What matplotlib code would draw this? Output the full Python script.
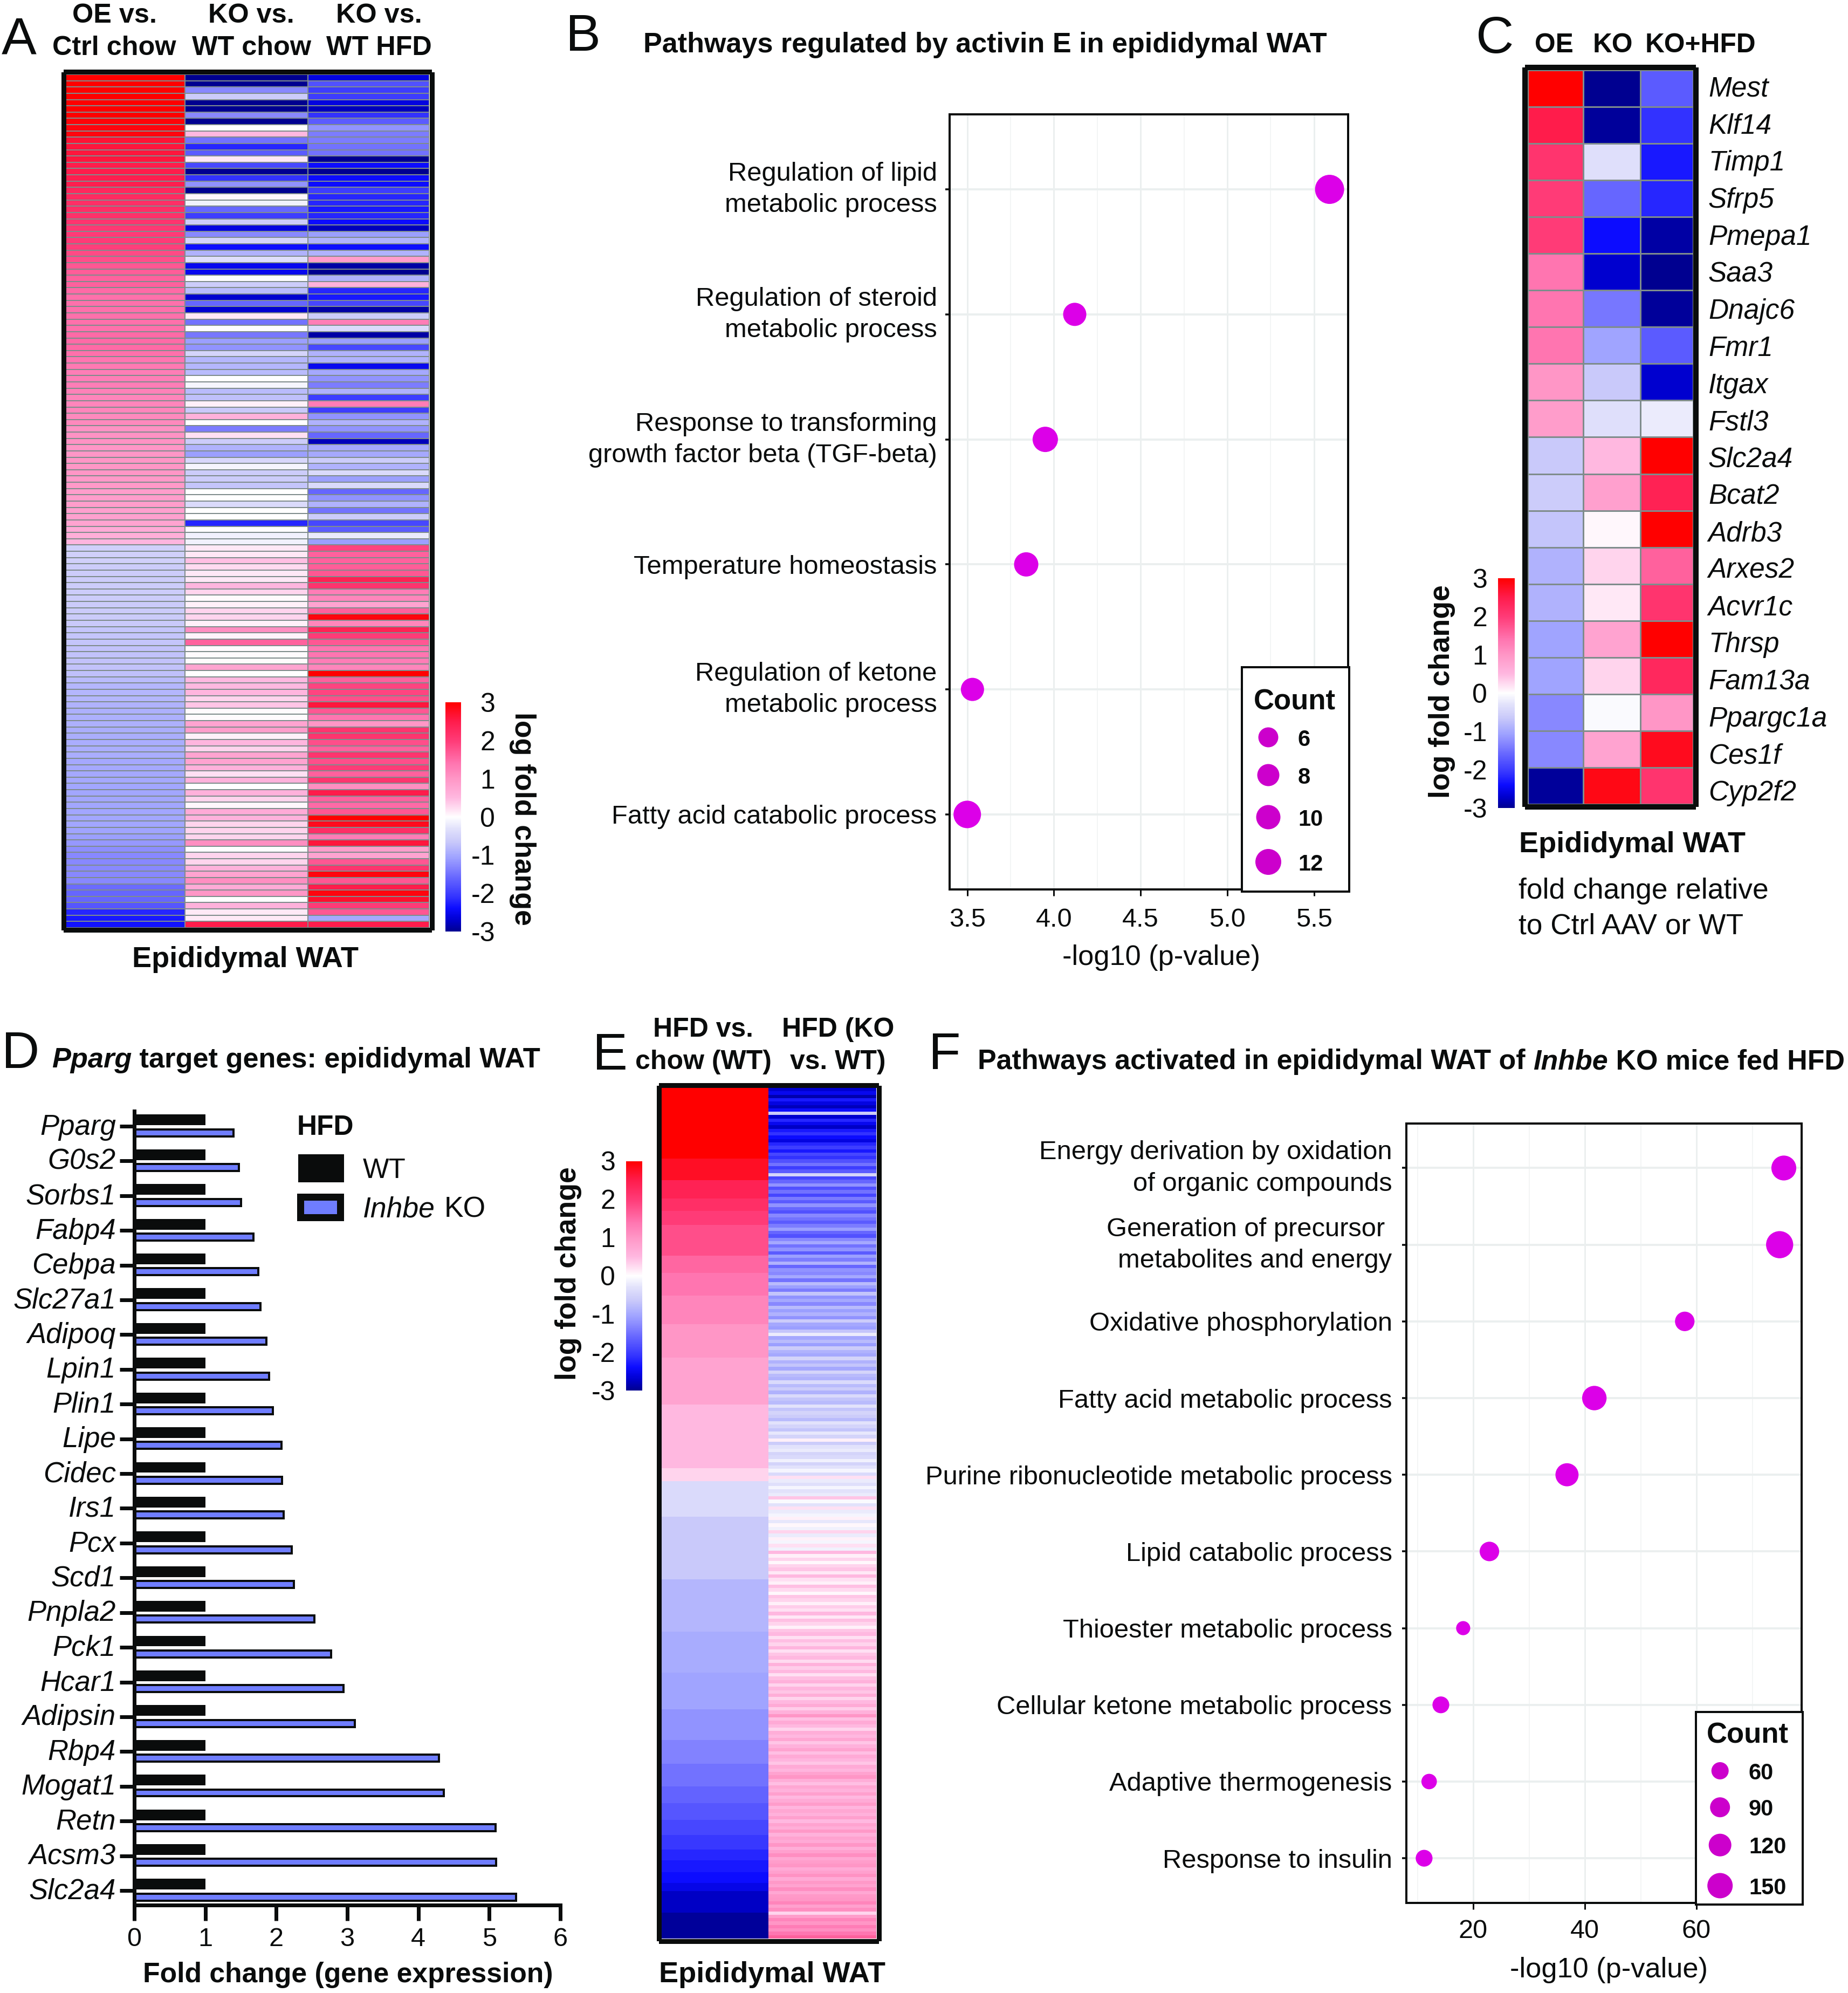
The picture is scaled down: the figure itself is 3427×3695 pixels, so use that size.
import numpy as np
import matplotlib
matplotlib.use('Agg')
import matplotlib.pyplot as plt
from matplotlib.colors import LinearSegmentedColormap, Normalize
from matplotlib.cm import ScalarMappable
from matplotlib.patches import Rectangle
from matplotlib.transforms import ScaledTranslation

# ---------------- DATA ----------------
a_oe_up = [3,3,3,3,3,3,3,2.95,2.9,2.9,2.65,2.6,2.6,2.6,2.5,2.5,2.45,2.45,2.3,2.25,2.2,2.2,2.15,2.1,2.05,
           2.0,2.0,1.95,1.85,1.8,1.7,1.65,1.6,1.6,1.5,1.45,1.45,1.45,1.45,1.45,1.45,1.5,1.5,1.5,1.45,1.4,1.35,1.3,1.3,1.3,
           1.25,1.2,1.2,1.2,1.15,1.15,1.05,1.05,1.05,1.0,1.0,1.0,1.0,1.0,0.95,0.95,0.9,0.9,0.9,0.85,0.85,0.8,0.7,0.65,0.55]
a_ko_up = [-3,-3,-1.3,-0.6,-3,-3,-1.3,-3,0,0.5,-1.5,-2.2,-1.7,0.15,-1.9,-3,-2.1,-1.2,-3,0.05,-0.15,-1.6,-2.0,-0.6,-2.6,
           -1.3,-0.5,-2.4,-0.9,-0.35,-2.5,-2.5,-0.02,-0.6,-0.8,-2.7,-1.6,-2.7,0.15,-1.5,0,-1.45,-1.1,-1.2,-0.5,-0.85,-0.85,-0.8,0,-0.1,
           -0.8,-0.75,0.1,-0.65,0.6,0,-1.4,0.2,-0.6,-0.9,-1.1,-0.45,-0.1,-0.6,-0.6,-0.7,0,0,-0.4,0,0,-2.2,0,-0.15,-0.15]
a_hfd_up = [-2.6,-1.8,-2.0,-2.0,-2.6,-2.8,-2.1,-1.7,-1.2,-1.4,-1.4,-1.5,-1.5,-3,-2.4,-3,-2.4,-2.4,-2.0,-2.2,-2.2,-2.3,-2.2,-2.4,-2.8,
            -1.1,-0.9,-2.4,-0.9,0.9,-2.9,-3,-0.9,0.6,-2.2,-2.3,-1.9,-2.9,-0.6,1.3,-0.4,-2.9,-1.1,-1.9,-0.9,-0.9,-2.5,-1.0,-1.2,-1.4,
            -0.9,-2.0,1.3,-2.0,-1.2,-0.9,-1.2,-1.6,-2.8,-1.0,-1.0,-0.6,-0.9,-0.4,-1.1,-0.4,-1.6,-1.2,-0.9,-1.5,-0.6,-1.9,-1.7,-0.2,-1.1]
a_oe_dn = [-0.55,-0.55,-0.55,-0.6,-0.6,-0.6,-0.6,-0.6,-0.6,-0.62,-0.62,-0.62,-0.65,-0.7,-0.7,-0.7,-0.72,-0.72,-0.72,-0.72,-0.75,-0.8,
           -0.85,-0.85,-0.85,-0.9,-0.92,-0.92,-0.92,-0.95,-0.95,-0.95,-0.95,-0.95,-1.0,-1.0,-1.0,-1.0,-1.02,-1.02,-1.02,-1.02,-1.02,-1.02,
           -1.02,-1.05,-1.1,-1.15,-1.25,-1.3,-1.3,-1.3,-1.3,-1.3,-1.55,-1.6,-1.6,-1.75,-2.2,-2.3,-2.35]
a_ko_dn = [0.15,0.15,0.45,0.25,0.15,0.15,0.55,0.3,0.03,0.1,0.3,0.3,0.1,1.1,0.08,1.6,0.03,0.03,0.03,0.8,0,0.5,0.5,0.55,0.3,0.4,0.03,0.03,
           0.8,0.9,0.1,0.55,0.3,0.8,0.8,0.6,0.2,0.6,0,0.6,0.3,0.05,0.7,0.6,0.3,0.3,0.3,1.1,0,0.3,0.3,0.6,0.8,1.1,0.7,1.0,0,0.6,0.15,0.15,2.5]
a_hfd_dn = [1.9,1.6,1.6,1.65,1.7,2.4,2.1,1.3,1.2,0.8,1.6,2.9,1.2,2.4,2.0,1.7,1.4,1.4,1.3,1.2,3,1.6,1.9,1.9,1.8,2.6,1.7,1.4,1.0,2.1,2.1,1.8,
            1.6,2.1,1.8,2.0,1.6,2.1,1.1,2.5,1.6,1.5,1.7,3,2.8,2.2,1.3,2.6,0.9,0.8,1.7,2.1,2.9,1.7,2.5,2.9,2.7,2.0,1.7,-1.0,2.5]
a_headers = [("OE vs.", "Ctrl chow"), ("KO vs.", "WT chow"), ("KO vs.", "WT HFD")]

b_terms = ["Regulation of lipid\nmetabolic process", "Regulation of steroid\nmetabolic process",
           "Response to transforming\ngrowth factor beta (TGF-beta)", "Temperature homeostasis",
           "Regulation of ketone\nmetabolic process", "Fatty acid catabolic process"]
b_pval = [5.59, 4.12, 3.95, 3.84, 3.53, 3.50]
b_count = [12, 6, 8, 7, 6, 10]
b_legend = [6, 8, 10, 12]
b_legend_d = [37, 41, 45, 48]

c_genes = ["Mest","Klf14","Timp1","Sfrp5","Pmepa1","Saa3","Dnajc6","Fmr1","Itgax","Fstl3",
           "Slc2a4","Bcat2","Adrb3","Arxes2","Acvr1c","Thrsp","Fam13a","Ppargc1a","Ces1f","Cyp2f2"]
c_oe = [3,2.5,2.1,2.0,2.0,1.4,1.4,1.4,1.0,0.9,-0.65,-0.6,-0.7,-0.9,-0.9,-1.05,-1.05,-1.3,-1.3,-2.95]
c_ko = [-3,-2.95,-0.35,-1.6,-2.4,-2.7,-1.45,-1.05,-0.65,-0.35,0.5,0.85,0.05,0.3,0.15,0.8,0.3,-0.05,0.8,2.85]
c_hfd = [-1.7,-2.1,-2.3,-2.2,-2.9,-3,-2.95,-1.7,-2.7,-0.2,3,2.4,3,1.6,2.1,3,2.3,1.0,2.8,2.1]
c_headers = ["OE", "KO", "KO+HFD"]

d_genes = ["Pparg","G0s2","Sorbs1","Fabp4","Cebpa","Slc27a1","Adipoq","Lpin1","Plin1","Lipe","Cidec","Irs1",
           "Pcx","Scd1","Pnpla2","Pck1","Hcar1","Adipsin","Rbp4","Mogat1","Retn","Acsm3","Slc2a4"]
d_wt = [1.0]*23
d_ko = [1.40,1.47,1.50,1.68,1.75,1.78,1.86,1.90,1.95,2.07,2.08,2.10,2.22,2.25,2.54,2.77,2.95,3.11,4.29,4.36,5.09,5.10,5.38]

e_band_size = [131,40,34,23,26,57,32,42,53,62,87,118,24,65,116,97,76,68,57,44,42,31,31,28,27,20,22,20,15,40,48]
e_band_val = [3,2.75,2.4,2.2,2.0,1.8,1.55,1.4,1.2,1.0,0.8,0.5,0.3,-0.4,-0.65,-0.85,-0.97,-1.05,-1.2,-1.35,-1.5,-1.62,
              -1.75,-1.9,-2.05,-2.2,-2.3,-2.4,-2.55,-2.75,-2.95]
e_ko = [-2.7,-2.5,-2.85,-2.3,-2.6,-2.8,-2.4,-0.6,-2.7,-2.2,-2.5,-2.75,-2.3,-2.1,-2.4,-2.6,-2.2,-2.0,-2.3,-1.9,
        -2.1,-1.8,-1.5,-2.0,-1.7,-0.5,-1.9,-1.6,-1.2,-1.8,-1.5,-1.9,-1.4,-1.7,-1.2,-1.6,-1.8,-1.3,-1.5,-1.7,
        -1.4,-1.1,-1.6,-1.8,-1.3,-1.0,-1.5,-1.2,-1.7,-1.1,-1.4,-0.9,-1.6,-1.2,-1.3,-1.0,-1.5,-0.8,-1.1,-1.4,
        -0.7,-1.2,-1.0,-1.3,-0.8,-1.1,-0.9,-1.2,-0.6,-1.0,-1.1,-0.7,-0.2,-1.0,-0.8,-1.1,-0.6,-0.9,-1.0,-0.5,
        -0.9,-0.7,-1.0,-0.5,-0.8,-0.9,-0.4,-0.8,-0.6,-0.9,-0.4,-0.7,-0.8,-0.3,-0.7,-0.5,-0.6,-0.8,-0.3,-0.5,
        -0.7,-0.25,-0.5,0.1,-0.6,-0.3,-0.2,-0.5,-0.4,-0.15,-0.5,-0.3,-0.1,-0.4,0.2,-0.2,-0.35,-0.1,-0.3,-0.2,
        0.4,-0.05,-0.3,0.2,-0.2,-0.1,0.1,-0.25,0.05,-0.15,0.3,-0.2,0.1,-0.1,0.2,-0.15,0.5,0.1,0.3,0.05,
        0.3,0.4,0.15,0.5,0.2,0.1,0.45,0.25,0.05,0.4,0.3,0.1,0.35,0.2,0.5,0.15,0.45,0.3,0.1,0.4,
        0.5,0.2,0.45,0.3,0.55,0.2,0.4,0.5,0.25,0.6,0.35,0.5,0.2,0.45,0.6,0.3,0.55,0.4,0.65,0.3,
        0.5,0.7,0.35,0.6,1.0,0.45,0.7,0.5,0.3,0.65,0.5,0.75,0.4,0.6,0.8,0.45,0.7,0.55,0.4,0.7,
        0.55,0.8,1.0,0.65,0.45,0.75,0.6,0.85,0.5,0.7,0.9,0.55,0.75,0.6,0.85,0.5,0.8,0.65,0.95,0.6,
        0.8,0.7,1.0,0.65,0.85,1.1,0.75,0.9,1.0,0.7,0.85,1.05,0.7,0.95,0.8,1.1,0.75,0.95,1.0,1.2,
        0.85,1.1,0.3,0.9,1.2,1.0,1.3,1.1,1.4,1.6]
e_headers = [("HFD vs.", "chow (WT)"), ("HFD (KO", "vs. WT)")]

f_terms = ["Energy derivation by oxidation\nof organic compounds", "Generation of precursor \nmetabolites and energy",
           "Oxidative phosphorylation", "Fatty acid metabolic process", "Purine ribonucleotide metabolic process",
           "Lipid catabolic process", "Thioester metabolic process", "Cellular ketone metabolic process",
           "Adaptive thermogenesis", "Response to insulin"]
f_pval = [75.65, 74.9, 57.9, 41.7, 36.8, 22.9, 18.2, 14.2, 12.1, 11.2]
f_count = [145, 170, 85, 140, 125, 85, 25, 55, 40, 55]
f_legend = [60, 90, 120, 150]

cbar_ticks = [3, 2, 1, 0, -1, -2, -3]

# ---------------- STYLE ----------------
W, H = 3427, 3695
DPI = 100
PX = 72 / DPI
INK = '#0a0c0c'
plt.rcParams['font.family'] = ['Liberation Sans', 'DejaVu Sans']
plt.rcParams['text.color'] = INK
plt.rcParams['axes.edgecolor'] = INK
plt.rcParams['xtick.color'] = INK
plt.rcParams['ytick.color'] = INK

stops = [(-3,'#000090'),(-2.7,'#0000d0'),(-2.4,'#0c0cff'),(-2.1,'#3333ff'),(-1.6,'#6666ff'),(-1.3,'#8888ff'),
         (-1.05,'#a0a4ff'),(-0.65,'#c9c9fa'),(-0.3,'#e2e2fb'),(0,'#ffffff'),(0.15,'#ffe8f6'),(0.5,'#ffb8e0'),
         (1.0,'#ff96c6'),(1.4,'#ff75b0'),(2.0,'#ff3b77'),(2.5,'#ff1c4c'),(3,'#ff0000')]
cmap = LinearSegmentedColormap.from_list('lfc', [((v + 3) / 6, c) for v, c in stops], N=512)
norm = Normalize(-3, 3)

fig = plt.figure(figsize=(W / DPI, H / DPI), dpi=DPI, facecolor='white')

def axpx(l, t, r, b, **kw):
    return fig.add_axes([l / W, 1 - b / H, (r - l) / W, (b - t) / H], **kw)

ov = axpx(0, 0, W, H)
ov.set_xlim(0, W); ov.set_ylim(H, 0); ov.axis('off'); ov.set_zorder(20); ov.patch.set_alpha(0)

def txt(x, y, s, size, **kw):
    kw.setdefault('va', 'baseline')
    return ov.text(x, y, s, fontsize=size, **kw)

def runs(x, y, parts, size):
    r = fig.canvas.get_renderer()
    scale = W / fig.bbox.width
    for s, st in parts:
        txt(x, y, s, size, fontweight='bold', fontstyle=st)
        a = ov.text(0, 0, 'x' + s + 'x', fontsize=size, fontweight='bold', fontstyle=st)
        b = ov.text(0, 0, 'xx', fontsize=size, fontweight='bold', fontstyle=st)
        x += (a.get_window_extent(r).width - b.get_window_extent(r).width) * scale
        a.remove(); b.remove()

def heat(l, t, r, b, xedges, columns, frame=8, grid_lw=1.2):
    ax = axpx(l, t, r, b)
    n = len(columns[0])
    C = np.array(columns).T
    ax.pcolormesh(xedges, np.arange(n + 1), C, cmap=cmap, norm=norm, edgecolors='#7f8c8c', linewidth=grid_lw)
    ax.set_xlim(xedges[0], xedges[-1]); ax.set_ylim(n, 0)
    ax.set_xticks([]); ax.set_yticks([])
    for sp in ax.spines.values():
        sp.set_linewidth(frame * PX)
        sp.set_position(('outward', frame / 2 * PX))
    return ax

def cbar(l, t, r, b, side, pad):
    cax = axpx(l, t, r, b)
    cb = fig.colorbar(ScalarMappable(norm=norm, cmap=cmap), cax=cax, ticks=cbar_ticks)
    cb.outline.set_visible(False)
    cb.ax.set_yticklabels([str(v) for v in cbar_ticks], fontsize=36)
    cb.ax.tick_params(length=0, pad=pad * PX)
    if side == 'left':
        cb.ax.yaxis.tick_left()
        cb.ax.tick_params(length=0, pad=pad * PX)
    else:
        for tl in cb.ax.get_yticklabels():
            tl.set_ha('right')
    return cb

def dotplot(l, t, r, b, xlim, ylim, majors, minors, terms, pvals, diam, lab_pad, tick_pad):
    ax = axpx(l, t, r, b)
    ax.set_xlim(*xlim); ax.set_ylim(*ylim)
    ax.set_axisbelow(True)
    ax.set_xticks(majors); ax.set_xticks(minors, minor=True)
    ax.set_yticks(range(len(terms)))
    ax.set_yticklabels(terms, fontsize=35.2, linespacing=1.38, ha='right', multialignment='right')
    ax.grid(True, which='major', axis='x', color='#ebefef', lw=3 * PX)
    ax.grid(True, which='minor', axis='x', color='#f3f5f5', lw=2 * PX)
    ax.grid(True, which='major', axis='y', color='#ebefef', lw=4 * PX)
    ax.tick_params(axis='y', length=8 * PX, width=3.5 * PX, pad=lab_pad * PX)
    ax.tick_params(axis='x', length=12 * PX, width=3 * PX, pad=tick_pad * PX, labelsize=35)
    ax.tick_params(axis='x', which='minor', length=0)
    for sp in ax.spines.values():
        sp.set_linewidth(4 * PX)
    for tl, term in zip(ax.get_yticklabels(), terms):
        if '\n' in term:
            tl.set_transform(tl.get_transform() + ScaledTranslation(0, 11 * PX / 72, fig.dpi_scale_trans))
    ax.scatter(pvals, range(len(pvals)), s=(np.array(diam) * PX) ** 2, c='#dc00e8', linewidths=0, zorder=5)
    return ax

def count_legend(l, t, r, b, cx, cys, ds, labels, tx, title_x, title_y):
    ov.add_patch(Rectangle((l, t), r - l, b - t, fc='white', ec=INK, lw=4 * PX, zorder=2))
    ov.scatter([cx] * len(cys), cys, s=(np.array(ds) * PX) ** 2, c='#cc00cc', linewidths=0, zorder=3)
    txt(title_x, title_y, 'Count', 38, fontweight='bold', zorder=4)
    for y, lab in zip(cys, labels):
        txt(tx, y, str(lab), 30, fontweight='bold', va='center_baseline', zorder=4)

# Panel letters
for s, x, y in [('A', 3, 99), ('B', 1049, 94), ('C', 2737, 98), ('D', 3, 1980), ('E', 1099, 1983), ('F', 1722, 1982)]:
    txt(x, y, s, 70)

# ---------------- A ----------------
heat(122, 138, 796, 1720, [0, 220.5, 449, 674],
     [a_oe_up + a_oe_dn, a_ko_up + a_ko_dn, a_hfd_up + a_hfd_dn], frame=9)
for cx, (h1, h2) in zip([212, 466, 703], a_headers):
    txt(cx, 42, h1, 36.3, ha='center', fontweight='bold')
    txt(cx, 102, h2, 36.3, ha='center', fontweight='bold')
txt(455, 1793, 'Epididymal WAT', 39, ha='center', fontweight='bold')
cbar(826, 1302, 855, 1727, 'right', 63)
txt(969, 1518, 'log fold change', 38.5, rotation=270, ha='center', va='center', fontweight='bold')

# ---------------- B ----------------
b_d = np.interp(b_count, b_legend, b_legend_d)
dotplot(1760.6, 212, 2500, 1649, (3.397, 5.697), (5.6, -0.6), [3.5, 4, 4.5, 5, 5.5],
        [3.75, 4.25, 4.75, 5.25], b_terms, b_pval, b_d + 6, 15, 22)
count_legend(2303, 1237, 2502, 1653, 2352, [1367, 1437, 1515, 1598], b_legend_d, b_legend, 2407, 2325, 1315)
txt(1193, 97, 'Pathways regulated by activin E in epididymal WAT', 37.5, fontweight='bold')
txt(2153, 1789, '-log10 (p-value)', 37.7, ha='center')

# ---------------- C ----------------
cax = heat(2833, 130, 3139.5, 1491, [0, 103, 209, 306.5], [c_oe, c_ko, c_hfd], frame=10, grid_lw=0.9)
cax.yaxis.tick_right()
cax.set_yticks([0.44 + i * 1.0095 for i in range(len(c_genes))])
cax.set_yticklabels(c_genes, fontsize=37, fontstyle='italic')
cax.tick_params(axis='y', length=0, pad=23.5 * PX)
for cx, s in zip([2882, 2991, 3153], c_headers):
    txt(cx, 97, s, 35.7, ha='center', fontweight='bold')
cbar(2778, 1072, 2809, 1498, 'left', 20)
txt(2674, 1282, 'log fold change', 38.5, rotation=90, ha='center', va='center', fontweight='bold')
txt(2817, 1580, 'Epididymal WAT', 39, fontweight='bold')
txt(2816, 1666, 'fold change relative', 38.4)
txt(2816, 1731, 'to Ctrl AAV or WT', 38.4)

# ---------------- D ----------------
dax = axpx(249, 2060, 1039, 3532)
ypos = np.arange(len(d_genes))
dax.barh(ypos - 0.18, d_wt, height=0.31, color=INK, linewidth=0)
dax.barh(ypos + 0.19, d_ko, height=0.2, color='#6f7dff', edgecolor=INK, linewidth=4 * PX)
dax.set_xlim(0, 6); dax.set_ylim(22.42, -0.435)
dax.set_yticks(ypos); dax.set_yticklabels(d_genes, fontsize=38, fontstyle='italic')
dax.set_xticks(range(7))
dax.tick_params(axis='y', length=27 * PX, width=7 * PX, pad=7 * PX)
dax.tick_params(axis='x', length=29 * PX, width=7 * PX, pad=12 * PX, labelsize=35)
dax.spines['top'].set_visible(False); dax.spines['right'].set_visible(False)
dax.spines['left'].set_linewidth(7 * PX); dax.spines['bottom'].set_linewidth(7 * PX)
for tl in dax.get_yticklabels():
    tl.set_transform(tl.get_transform() + ScaledTranslation(0, 4 * PX / 72, fig.dpi_scale_trans))
runs(96, 1979, [('Pparg', 'italic'), (' target genes: epididymal WAT', 'normal')], 37.7)
txt(551, 2104, 'HFD', 37, fontweight='bold')
ov.add_patch(Rectangle((552.6, 2140), 85, 52, fc=INK, ec='none'))
ov.add_patch(Rectangle((557, 2219), 74, 38, fc='#6f7dff', ec=INK, lw=13 * PX))
txt(673, 2184, 'WT', 37)
txt(673, 2256, 'Inhbe', 38.5, fontstyle='italic')
txt(824, 2256, 'KO', 38.5)
txt(645, 3675, 'Fold change (gene expression)', 37.2, ha='center', fontweight='bold')

# ---------------- E ----------------
eax = axpx(1226, 2017, 1625, 3594)
eax.set_xlim(0, 399); eax.set_ylim(1, 0)
e_edges = np.cumsum([0] + e_band_size) / np.sum(e_band_size)
eax.pcolormesh([0, 199], e_edges, np.array(e_band_val)[:, None], cmap=cmap, norm=norm)
eax.pcolormesh([199, 399], np.arange(len(e_ko) + 1) / len(e_ko), np.array(e_ko)[:, None], cmap=cmap, norm=norm)
eax.set_xticks([]); eax.set_yticks([])
for sp in eax.spines.values():
    sp.set_linewidth(9 * PX)
    sp.set_position(('outward', 4.5 * PX))
for cx, (h1, h2) in zip([1304, 1554], e_headers):
    txt(cx, 1922, h1, 36, ha='center', fontweight='bold')
    txt(cx, 1982, h2, 36, ha='center', fontweight='bold')
cbar(1161, 2152.5, 1191, 2578, 'left', 20)
txt(1054, 2361, 'log fold change', 38.5, rotation=90, ha='center', va='center', fontweight='bold')
txt(1432, 3675, 'Epididymal WAT', 39, ha='center', fontweight='bold')

# ---------------- F ----------------
f_d = 22 + np.array(f_count) / 6
dotplot(2607.5, 2083, 3341, 3527.6, (7.97, 78.84), (9.58, -0.58), [20, 40, 60], [10, 30, 50, 70],
        f_terms, f_pval, f_d, 18, 18)
count_legend(3145, 3174, 3342.7, 3531, 3189.7, [3283, 3350.7, 3420.7, 3496], 22 + np.array(f_legend) / 6, f_legend,
             3243, 3165, 3231)
runs(1813, 1982, [('Pathways activated in epididymal WAT of ', 'normal'), ('Inhbe', 'italic'),
                  (' KO mice fed HFD', 'normal')], 37.45)
txt(2983, 3666, '-log10 (p-value)', 37.7, ha='center')

fig.savefig('out.png', dpi=DPI, facecolor='white')
